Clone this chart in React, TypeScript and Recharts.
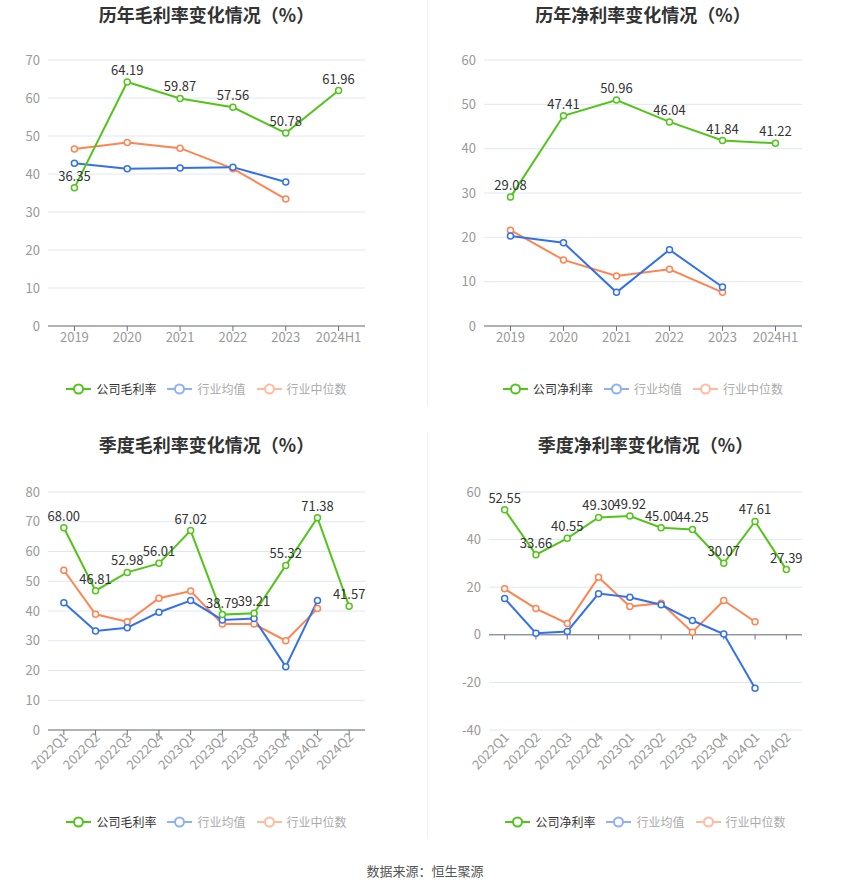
import React from 'react';
import { LineChart, Line, XAxis, YAxis, CartesianGrid, LabelList, ReferenceLine } from 'recharts';

const years = ['2019', '2020', '2021', '2022', '2023', '2024H1'];
const grossCompany = [36.35, 64.19, 59.87, 57.56, 50.78, 61.96];
const grossAvg = [42.8, 41.4, 41.6, 41.8, 37.9, null];
const grossMedian = [46.6, 48.3, 46.8, 41.4, 33.4, null];

const netCompany = [29.08, 47.41, 50.96, 46.04, 41.84, 41.22];
const netAvg = [20.3, 18.8, 7.6, 17.2, 8.8, null];
const netMedian = [21.6, 14.9, 11.3, 12.8, 7.6, null];

const quarters = ['2022Q1', '2022Q2', '2022Q3', '2022Q4', '2023Q1', '2023Q2', '2023Q3', '2023Q4', '2024Q1', '2024Q2'];
const qGrossCompany = [68.0, 46.81, 52.98, 56.01, 67.02, 38.79, 39.21, 55.32, 71.38, 41.57];
const qGrossAvg = [42.8, 33.3, 34.4, 39.6, 43.5, 37.0, 37.5, 21.3, 43.5, null];
const qGrossMedian = [53.7, 38.9, 36.4, 44.3, 46.7, 35.6, 35.6, 30.0, 40.8, null];

const qNetCompany = [52.55, 33.66, 40.55, 49.3, 49.92, 45.0, 44.25, 30.07, 47.61, 27.39];
const qNetAvg = [15.2, 0.7, 1.4, 17.3, 15.8, 12.6, 6.0, 0.3, -22.5, null];
const qNetMedian = [19.3, 11.0, 4.8, 24.2, 11.9, 13.3, 1.1, 14.4, 5.5, null];

const tickGross = [0, 10, 20, 30, 40, 50, 60, 70];
const tickNet = [0, 10, 20, 30, 40, 50, 60];
const tickQGross = [0, 10, 20, 30, 40, 50, 60, 70, 80];
const tickQNet = [-40, -20, 0, 20, 40, 60];

const GREEN = '#52C41A';
const BLUE = '#3471E9';
const ORANGE = '#FF8451';
const FONT = '"Noto Sans CJK SC", "Noto Sans", sans-serif';

function build(cats: string[], a: (number | null)[], b: (number | null)[], c: (number | null)[]) {
  return cats.map((name, i) => ({ name, company: a[i], avg: b[i], median: c[i] }));
}

const RotTick = (props: any) => {
  const { x, y, payload } = props;
  return (
    <g transform={`translate(${x},${y})`}>
      <text x={3} y={1} textAnchor="end" transform="rotate(-45)" fill="#999" fontSize={13} fontFamily={FONT} dominantBaseline="middle">
        {payload.value}
      </text>
    </g>
  );
};

const LegendIcon = ({ color, faded }: { color: string; faded: boolean }) => (
  <svg width={25} height={14} style={{ opacity: faded ? 0.55 : 1, marginRight: 5 }}>
    <line x1={0} y1={7} x2={25} y2={7} stroke={color} strokeWidth={2} />
    <circle cx={12.5} cy={7} r={4.5} fill="#fff" stroke={color} strokeWidth={2} />
  </svg>
);

const Legend = ({ name }: { name: string }) => {
  const items = [
    { label: name, color: GREEN, faded: false },
    { label: '行业均值', color: BLUE, faded: true },
    { label: '行业中位数', color: ORANGE, faded: true },
  ];
  return (
    <div style={{ display: 'flex', justifyContent: 'center', alignItems: 'center', fontFamily: FONT, fontSize: 12 }}>
      {items.map((it, i) => (
        <div key={i} style={{ display: 'flex', alignItems: 'center', marginRight: i < 2 ? 11 : 0, color: it.faded ? '#aaa' : '#333' }}>
          <LegendIcon color={it.color} faded={it.faded} />
          <span>{it.label}</span>
        </div>
      ))}
    </div>
  );
};

type PanelProps = {
  left: number;
  top: number;
  height: number;
  title: string;
  legendName: string;
  data: any[];
  domain: [number, number];
  ticks: number[];
  yAxisWidth: number;
  marginTop: number;
  marginRight: number;
  marginBottom: number;
  xHeight: number;
  rotated: boolean;
  zeroLine: boolean;
  titleY: number;
  legendY: number;
};

const Panel = (p: PanelProps) => {
  const W = 425;
  const plotLeft = p.yAxisWidth;
  const plotWidth = W - p.marginRight - plotLeft;
  return (
    <div style={{ position: 'absolute', left: p.left, top: p.top, width: W, height: p.height }}>
      <div
        style={{
          position: 'absolute',
          left: plotLeft,
          width: plotWidth,
          top: p.titleY - 12,
          height: 24,
          lineHeight: '24px',
          textAlign: 'center',
          fontFamily: FONT,
          fontWeight: 'bold',
          fontSize: 18,
          color: '#333',
          whiteSpace: 'nowrap',
        }}
      >
        {p.title}
      </div>
      <div style={{ position: 'absolute', left: plotLeft, width: plotWidth, top: p.legendY - 10, height: 20 }}>
        <Legend name={p.legendName} />
      </div>
      <div style={{ position: 'absolute', left: 0, top: 0 }}>
        <LineChart
          width={W}
          height={p.height}
          data={p.data}
          margin={{ top: p.marginTop, right: p.marginRight, left: 0, bottom: p.marginBottom }}
        >
          <CartesianGrid vertical={false} stroke="#E0E6F1" />
          <XAxis
            dataKey="name"
            scale="band"
            height={p.xHeight}
            interval={0}
            axisLine={p.zeroLine ? false : { stroke: '#6E7079' }}
            tickLine={p.zeroLine ? false : { stroke: '#6E7079' }}
            tickSize={5}
            tick={p.rotated ? <RotTick /> : { fill: '#999', fontSize: 13, fontFamily: FONT }}
          />
          <YAxis
            width={p.yAxisWidth}
            domain={p.domain}
            ticks={p.ticks}
            interval={0}
            axisLine={false}
            tickLine={false}
            tick={{ fill: '#999', fontSize: 13, fontFamily: FONT }}
          />
          {p.zeroLine && <ReferenceLine y={0} stroke="#6E7079" />}
          {p.zeroLine &&
            p.data.map((d: any) => (
              <ReferenceLine
                key={d.name}
                segment={[
                  { x: d.name, y: 0 },
                  { x: d.name, y: -2 },
                ]}
                stroke="#6E7079"
              />
            ))}
          <Line
            dataKey="median"
            stroke={ORANGE}
            strokeWidth={2}
            dot={{ r: 3, fill: '#fff', stroke: ORANGE, strokeWidth: 1.5 }}
            isAnimationActive={false}
          />
          <Line
            dataKey="avg"
            stroke={BLUE}
            strokeWidth={2}
            dot={{ r: 3, fill: '#fff', stroke: BLUE, strokeWidth: 1.5 }}
            isAnimationActive={false}
          />
          <Line
            dataKey="company"
            stroke={GREEN}
            strokeWidth={2}
            dot={{ r: 3, fill: '#fff', stroke: GREEN, strokeWidth: 1.5 }}
            isAnimationActive={false}
          >
            <LabelList
              dataKey="company"
              position="top"
              offset={7}
              fill="#333"
              fontSize={13}
              fontFamily={FONT}
              formatter={(v: any) => (typeof v === 'number' ? v.toFixed(2) : v)}
            />
          </Line>
        </LineChart>
      </div>
    </div>
  );
};

export default function App() {
  return (
    <div style={{ position: 'absolute', left: 0, top: 0, width: 850, height: 891, background: '#fff' }}>
      <Panel
        left={0}
        top={0}
        height={360}
        title="历年毛利率变化情况（%）"
        legendName="公司毛利率"
        data={build(years, grossCompany, grossAvg, grossMedian)}
        domain={[0, 70]}
        ticks={tickGross}
        yAxisWidth={48}
        marginTop={60}
        marginRight={60}
        marginBottom={4}
        xHeight={30}
        rotated={false}
        zeroLine={false}
        titleY={14}
        legendY={390}
      />
      <Panel
        left={425}
        top={0}
        height={360}
        title="历年净利率变化情况（%）"
        legendName="公司净利率"
        data={build(years, netCompany, netAvg, netMedian)}
        domain={[0, 60]}
        ticks={tickNet}
        yAxisWidth={59}
        marginTop={60}
        marginRight={48}
        marginBottom={4}
        xHeight={30}
        rotated={false}
        zeroLine={false}
        titleY={14}
        legendY={390}
      />
      <Panel
        left={0}
        top={430}
        height={400}
        title="季度毛利率变化情况（%）"
        legendName="公司毛利率"
        data={build(quarters, qGrossCompany, qGrossAvg, qGrossMedian)}
        domain={[0, 80]}
        ticks={tickQGross}
        yAxisWidth={48}
        marginTop={62}
        marginRight={60}
        marginBottom={40}
        xHeight={60}
        rotated={true}
        zeroLine={false}
        titleY={14}
        legendY={393}
      />
      <Panel
        left={425}
        top={430}
        height={400}
        title="季度净利率变化情况（%）"
        legendName="公司净利率"
        data={build(quarters, qNetCompany, qNetAvg, qNetMedian)}
        domain={[-40, 60]}
        ticks={tickQNet}
        yAxisWidth={64}
        marginTop={62}
        marginRight={48}
        marginBottom={40}
        xHeight={60}
        rotated={true}
        zeroLine={true}
        titleY={14}
        legendY={393}
      />
      <div style={{ position: 'absolute', left: 427, top: 0, width: 1, height: 405, background: '#eee' }} />
      <div style={{ position: 'absolute', left: 427, top: 432, width: 1, height: 406, background: '#eee' }} />
      <div
        style={{
          position: 'absolute',
          left: 0,
          width: 850,
          top: 861,
          height: 20,
          lineHeight: '20px',
          textAlign: 'center',
          fontFamily: FONT,
          fontSize: 13,
          color: '#555',
        }}
      >
        数据来源：恒生聚源
      </div>
    </div>
  );
}
